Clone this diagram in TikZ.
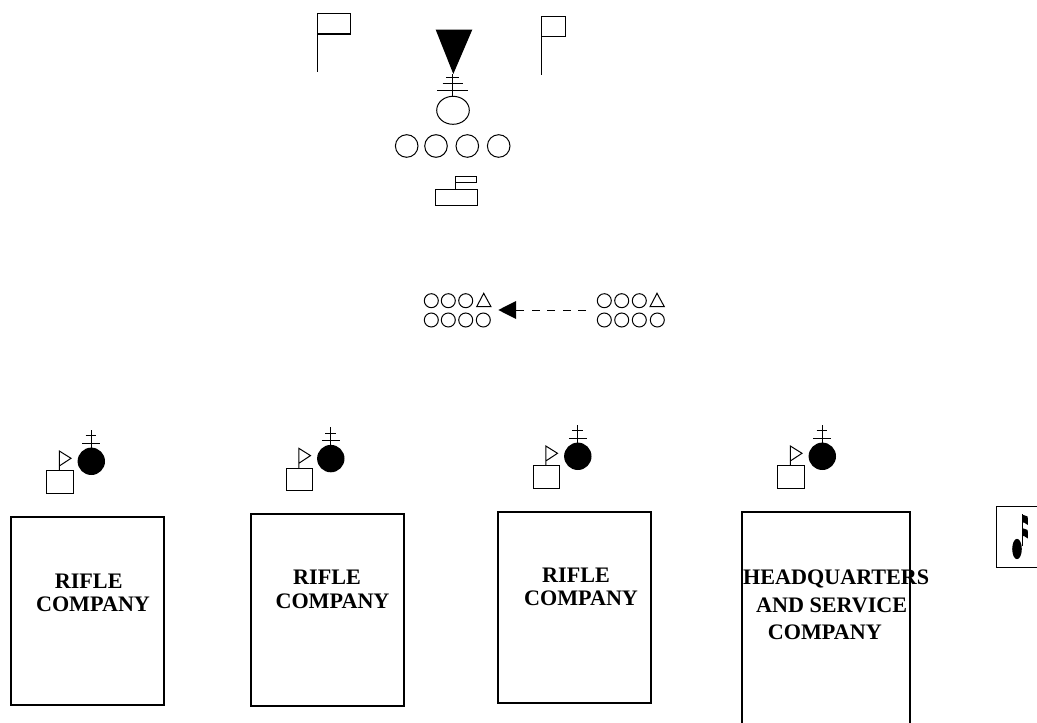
\documentclass[tikz,border=0pt]{standalone}
\usepackage{fontspec}
\setmainfont{Liberation Serif}
\tikzset{
  ln/.style={draw=black,line width=0.95pt},
  thin ln/.style={draw=black,line width=0.75pt},
  box/.style={draw=black,line width=1.3pt},
  lbl/.style={font=\fontsize{16.6pt}{20pt}\selectfont\bfseries,inner sep=0pt,anchor=base},
  unit/.pic={
    \draw[thin ln] (46.7,470.7) rectangle (73,493.3);
    \draw[thin ln,line join=miter] (59.3,470.7) -- (59.3,451) -- (71,458.3) -- (59.3,466);
    \fill[black] (91.3,461.3) circle (13.7);
    \draw[thin ln] (91.3,430) -- (91.3,448);
    \draw[thin ln] (85.7,435.7) -- (96.3,435.7);
    \draw[thin ln] (82.3,443) -- (100,443);
  }
}
\begin{document}
\begin{tikzpicture}[x=0.75pt,y=-0.75pt]
\useasboundingbox (0,0) rectangle (1037,723);
\clip (0,0) rectangle (1037,723);
% flags
\draw[ln] (317.7,72) -- (317.7,13.7) -- (350.3,13.7) -- (350.3,34) -- (317.7,34);
\draw[thin ln] (541.7,75) -- (541.7,16.3) -- (565.7,16.3) -- (565.7,36.7) -- (541.7,36.7);
% commander
\fill[black] (435.7,29.7) -- (472.3,29.7) -- (453.3,74) -- cycle;
\draw[thin ln] (452.7,74) -- (452.7,96.3);
\draw[thin ln] (446,77.3) -- (458.7,77.3);
\draw[thin ln] (442.7,84) -- (463.3,84);
\draw[thin ln] (437,90.7) -- (468.3,90.7);
\draw[thin ln] (453,110.3) ellipse (16.3 and 14);
\foreach \x in {406.7,436,467.3,498.7} \draw[thin ln] (\x,146) circle (11.3);
\draw[thin ln] (435,189.3) rectangle (477.3,205.3);
\draw[thin ln] (455.7,189.3) -- (455.7,176.7) -- (476.3,176.7) -- (476.3,182.7) -- (455.7,182.7);
% formation row
\foreach \x in {431.3,448.3,465.7,604.3,621.7,639.3} \draw[thin ln] (\x,300.7) circle (7);
\foreach \x in {431.3,448.3,465.7,483.3,604.3,621.7,639.3,657.3} \draw[thin ln] (\x,320) circle (7);
\draw[thin ln] (476.7,306.7) -- (483.7,293.3) -- (491,306.7) -- cycle;
\draw[thin ln] (650,306.7) -- (657,293.3) -- (664.3,306.7) -- cycle;
\coordinate (arrowTail) at (586,310);
\coordinate (arrowBase) at (516,310);
\coordinate (arrowTip) at (498.3,310);
\draw[thin ln,dash pattern=on 6pt off 5.6pt] (arrowTail) -- (arrowBase);
\fill[black] (arrowTip) -- (516,301) -- (516,319) -- cycle;
% units
\pic at (0,0) {unit};
\pic at (239.5,-2.7) {unit};
\pic at (486.5,-5) {unit};
\pic at (731,-5) {unit};
% company boxes
\draw[box] (11,517) rectangle (164,705);
\draw[box] (251,514) rectangle (404,706);
\draw[box] (498,512) rectangle (651,703);
\draw[box] (742,723) -- (742,512) -- (910,512) -- (910,723);
\node[lbl] (a1) at (88.7,588) {RIFLE};
\node[lbl] (a2) at (93,611) {COMPANY};
\node[lbl] (b1) at (327,584.3) {RIFLE};
\node[lbl] (b2) at (332.5,608.3) {COMPANY};
\node[lbl] (c1) at (576,582.3) {RIFLE};
\node[lbl] (c2) at (581,605.3) {COMPANY};
\node[lbl] (d1) at (836.2,584.3) {HEADQUARTERS};
\node[lbl] (d2) at (831.7,612.7) {AND SERVICE};
\node[lbl] (d3) at (824.8,639) {COMPANY};
% note symbol
\draw[thin ln] (1037,506.3) -- (996.3,506.3) -- (996.3,567) -- (1037,567);
\fill[black] (1017,549) ellipse (4.8 and 10.2);
\draw[line width=0.9pt] (1022.3,514) -- (1022.3,546);
\fill[black] (1022,514.5) -- (1027.7,516.5) -- (1027.9,525) -- (1024,522.5) -- (1022,522.5) -- cycle;
\fill[black] (1022,528) -- (1027.7,530) -- (1027.9,538.5) -- (1024,536) -- (1022,536) -- cycle;
\end{tikzpicture}
\end{document}
